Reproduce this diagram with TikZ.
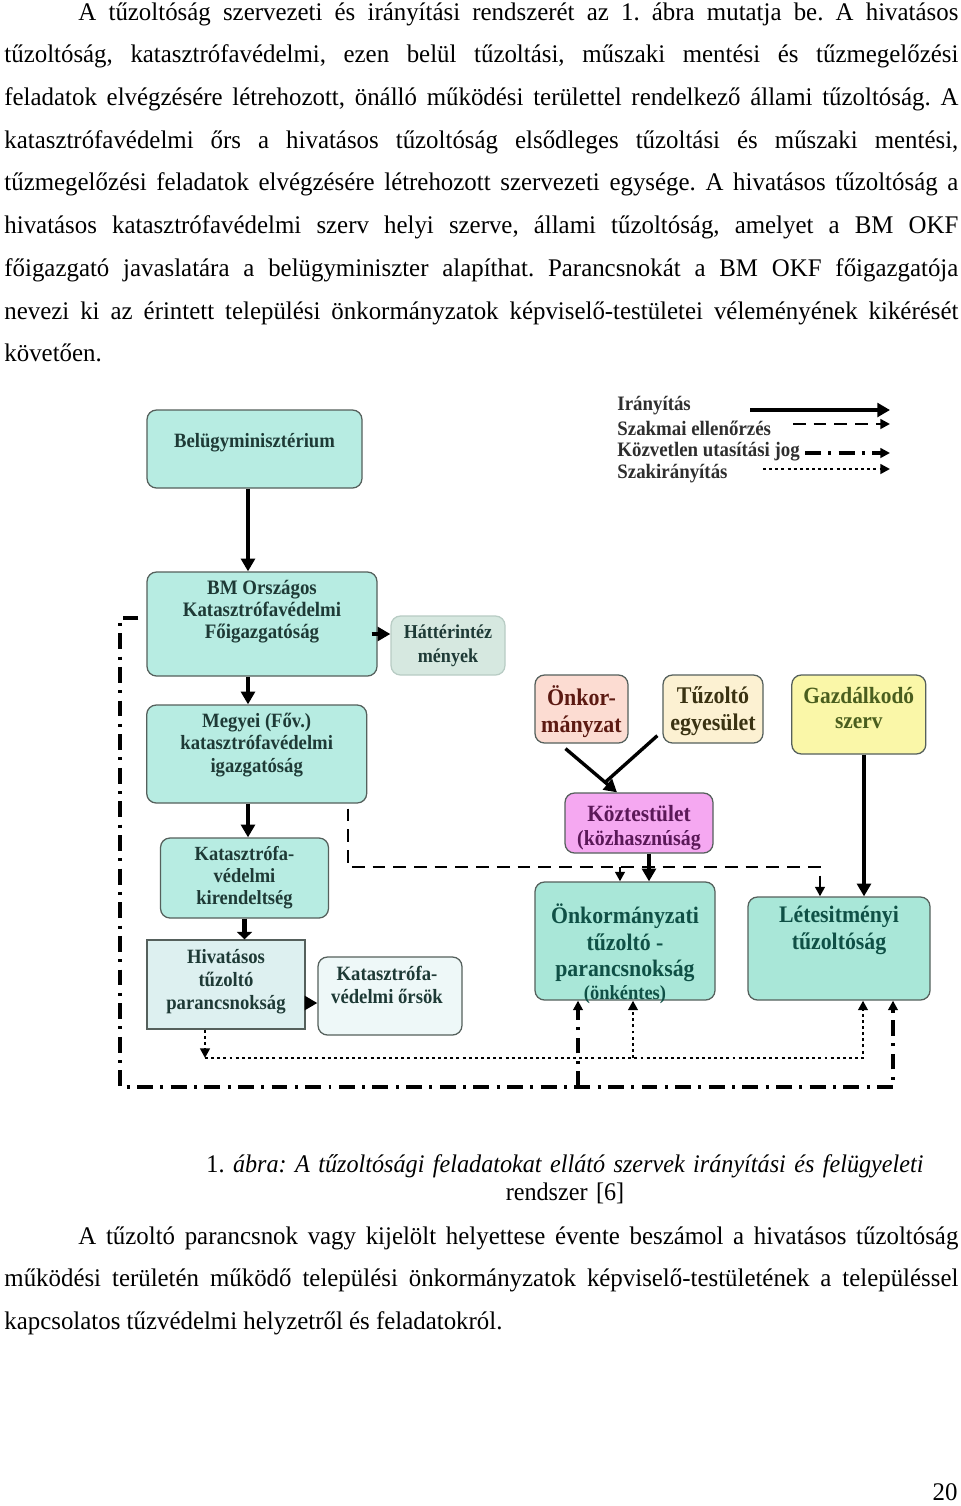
\documentclass[tikz,border=0pt]{standalone}
\usepackage{fontspec}
\setmainfont{Liberation Serif}[FakeStretch=0.98]
\newfontfamily\diafont{Liberation Serif}[FakeStretch=0.92]
\usetikzlibrary{arrows.meta,calc}
\newcommand{\px}{0.4728pt}
\newenvironment{sorkizart}{\begin{minipage}[t]{451pt}\hyphenpenalty=10000 \exhyphenpenalty=10000
  \noindent\hspace*{35pt}\ignorespaces}{\end{minipage}}
\definecolor{mint}{HTML}{B7ECE2}
\definecolor{mintdark}{HTML}{A9E7D8}
\definecolor{hatterfill}{HTML}{D6E8E0}
\definecolor{hatterline}{HTML}{B8CCC4}
\definecolor{hivfill}{HTML}{DDF0F0}
\definecolor{orsfill}{HTML}{EEF8F8}
\definecolor{onkorfill}{HTML}{FCDCD2}
\definecolor{tuzfill}{HTML}{FCF1D2}
\definecolor{gazdfill}{HTML}{FAF7A8}
\definecolor{kozfill}{HTML}{F5A8F1}
\definecolor{boxline}{HTML}{55605C}
\definecolor{tealtext}{HTML}{1E3A36}
\definecolor{greentext}{HTML}{0F5046}
\definecolor{onkortext}{HTML}{5C1A12}
\definecolor{tuztext}{HTML}{3A3212}
\definecolor{gazdtext}{HTML}{4A5E1E}
\definecolor{koztext}{HTML}{5A1858}
\definecolor{legtext}{HTML}{2E2E2E}
\tikzset{
  box/.style={draw=boxline,line width=0.6pt,rounded corners=4.5pt,inner sep=0pt},
  txt/.style={align=center,inner sep=0pt,text=tealtext,
    font=\diafont\bfseries\fontsize{9.6}{10.8}\selectfont},
  txtbig/.style={txt,font=\diafont\bfseries\fontsize{11.2}{12.5}\selectfont},
  legtxt/.style={inner sep=0pt,text=legtext,
    font=\diafont\bfseries\fontsize{9.7}{10.5}\selectfont},
  bodytext/.style={inner sep=0pt,font=\fontsize{12}{20.21}\selectfont\frenchspacing},
  iranyitas/.style={line width=1.6pt,-{Triangle[length=6pt,width=6.5pt]}},
  blokk/.style={line width=2.8pt,-{Triangle[length=3.5pt,width=7pt]}},
  szakmai/.style={line width=1.4pt,dash pattern=on 6pt off 3.8pt,-{Triangle[length=4.5pt,width=4.5pt]}},
  kozvetlen/.style={line width=1.5pt,dash pattern=on 7.5pt off 3.5pt on 1.4pt off 3.5pt,-{Triangle[length=4.5pt,width=4.5pt]}},
  szakir/.style={line width=1.4pt,dash pattern=on 1.4pt off 1.5pt,-{Triangle[length=4.5pt,width=4.5pt]}}
}
\begin{document}
\begin{tikzpicture}[x=\px,y=-\px]
  \fill[white] (0,0) rectangle (960,1506);
  \useasboundingbox (0,0) rectangle (960,1506);
  % text above the figure
  \node[bodytext,anchor=base west] (par1) at (4,20) {\begin{sorkizart}
    A tűzoltóság szervezeti és irányítási rendszerét az 1. ábra mutatja be. A hivatásos\linebreak
    tűzoltóság, katasztrófavédelmi, ezen belül tűzoltási, műszaki mentési és tűzmegelőzési\linebreak
    feladatok elvégzésére létrehozott, önálló működési területtel rendelkező állami tűzoltóság. A\linebreak
    katasztrófavédelmi őrs a hivatásos tűzoltóság elsődleges tűzoltási és műszaki mentési,\linebreak
    tűzmegelőzési feladatok elvégzésére létrehozott szervezeti egysége. A hivatásos tűzoltóság a\linebreak
    hivatásos katasztrófavédelmi szerv helyi szerve, állami tűzoltóság, amelyet a BM OKF\linebreak
    főigazgató javaslatára a belügyminiszter alapíthat. Parancsnokát a BM OKF főigazgatója\linebreak
    nevezi ki az érintett települési önkormányzatok képviselő-testületei véleményének kikérését\linebreak
    követően.\end{sorkizart}};
  % legend
  \foreach \st/\xa/\yl/\yt/\lab [count=\i] in {iranyitas/750/410/406/Irányítás,
      szakmai/793/424/428/Szakmai ellenőrzés,
      kozvetlen/805/453/452/Közvetlen utasítási jog,
      szakir/763/469/474/Szakirányítás}{
    \node[legtxt,anchor=west] (leg\i) at (617,\yt) {\lab};
    \coordinate (la\i) at (\xa,\yl);
    \coordinate (lb\i) at (890,\yl);
    \draw[\st] (la\i) -- (lb\i);
  }
  % boxes
  \node[box,fill=mint,minimum width=215*\px,minimum height=78*\px] (bm) at (254.5,449) {};
  \node[txt] (bm-t) at ($(bm)+(0,-6)$) {Belügyminisztérium};
  \node[box,fill=mint,minimum width=230*\px,minimum height=104*\px] (okf) at (262,624) {};
  \node[txt,font=\diafont\bfseries\fontsize{9.7}{10.4}\selectfont] (okf-t) at ($(okf)+(0,-12)$) {BM Országos\\Katasztrófavédelmi\\Főigazgatóság};
  \node[box,draw=hatterline,fill=hatterfill,minimum width=114*\px,minimum height=59*\px] (hatter) at (448,645.5) {};
  \node[txt,font=\diafont\bfseries\fontsize{9.3}{11.3}\selectfont] (hatter-t) at (hatter) {Háttérintéz\\mények};
  \node[box,fill=mint,minimum width=220*\px,minimum height=98*\px] (megyei) at (256.7,754) {};
  \node[txt] (megyei-t) at ($(megyei)+(0,-9)$) {Megyei (Főv.)\\katasztrófavédelmi\\igazgatóság};
  \node[box,fill=mint,minimum width=168*\px,minimum height=80*\px] (kir) at (244.5,878) {};
  \node[txt,font=\diafont\bfseries\fontsize{9.5}{10.4}\selectfont] (kir-t) at (kir) {Katasztrófa-\\védelmi\\kirendeltség};
  \node[box,rounded corners=0pt,fill=hivfill,minimum width=158*\px,minimum height=89*\px] (hiv) at (226,984.5) {};
  \node[txt] (hiv-t) at ($(hiv)+(0,-3)$) {Hivatásos\\tűzoltó\\parancsnokság};
  \node[box,fill=orsfill,minimum width=144*\px,minimum height=78*\px] (ors) at (390,996) {};
  \node[txt] (ors-t) at ($(ors)+(-3,-11)$) {Katasztrófa-\\védelmi őrsök};
  \node[box,fill=onkorfill,minimum width=93*\px,minimum height=68*\px] (onkor) at (581.5,709) {};
  \node[txt,text=onkortext,font=\diafont\bfseries\fontsize{11.3}{12.8}\selectfont] (onkor-t) at ($(onkor)+(0,2.5)$) {Önkor-\\mányzat};
  \node[box,fill=tuzfill,minimum width=100*\px,minimum height=68*\px] (tuz) at (713,709) {};
  \node[txt,text=tuztext,font=\diafont\bfseries\fontsize{11.3}{12.8}\selectfont] (tuz-t) at ($(tuz)+(0,2.5)$) {Tűzoltó\\egyesület};
  \node[box,fill=gazdfill,minimum width=134*\px,minimum height=79*\px] (gazd) at (858.8,714.5) {};
  \node[txt,text=gazdtext,font=\diafont\bfseries\fontsize{11}{11.4}\selectfont] (gazd-t) at ($(gazd)+(0,-6.5)$) {Gazdálkodó\\szerv};
  \node[box,fill=kozfill,minimum width=148*\px,minimum height=60*\px] (koz) at (639,823) {};
  \node[txt,text=koztext,font=\diafont\bfseries\fontsize{11}{11.4}\selectfont] (koz-t) at ($(koz)+(0,5)$) {Köztestület\\{\fontsize{10.2}{11}\selectfont(közhasznúság}};
  \node[box,fill=mintdark,minimum width=180*\px,minimum height=118*\px] (onkt) at (625,941) {};
  \node[txtbig,text=greentext] (onkt-t) at ($(onkt)+(0,13)$) {Önkormányzati\\tűzoltó -\\parancsnokság\\[-1.5pt]{\fontsize{9.5}{10}\selectfont(önkéntes)}};
  \node[box,fill=mintdark,minimum width=182*\px,minimum height=103*\px] (let) at (839,948.5) {};
  \node[txtbig,text=greentext] (let-t) at ($(let)+(0,-18)$) {Létesitményi\\tűzoltóság};
  % irányítás
  \coordinate (spine) at (248,0);
  \coordinate (okfy) at (0,634);
  \coordinate (orsy) at (0,1003);
  \coordinate (kozx) at (649,0);
  \coordinate (gazdx) at (864,0);
  \draw[iranyitas] (bm.south -| spine) -- (okf.north -| spine);
  \draw[iranyitas] (okf.south -| spine) -- (megyei.north -| spine);
  \draw[iranyitas] (megyei.south -| spine) -- (kir.north -| spine);
  \draw[blokk] (kir.south) -- (kir.south |- hiv.north);
  \draw[iranyitas] ([xshift=-6*\px]okf.east |- okfy) -- (hatter.west |- okfy);
  \draw[iranyitas] (hiv.east |- orsy) -- (ors.west |- orsy);
  \draw[iranyitas] ($(onkor.south)+(-16,5)$) -- ($(koz.north)+(-22,0)$) coordinate[pos=.77] (egyes);
  \draw[iranyitas,-] ($(tuz.south west)+(-5,-8)$) -- (egyes);
  \draw[iranyitas] (koz.south -| kozx) -- (onkt.north -| kozx);
  \draw[iranyitas] (gazd.south -| gazdx) -- (let.north -| gazdx);
  % szakmai ellenőrzés
  \coordinate (sz1) at (348,867);
  \coordinate (sz2) at (820,867);
  \coordinate (sz3) at (620,867);
  \draw[szakmai] ([yshift=-5*\px]megyei.south -| sz1) -- (sz1) -| (let.north -| sz2);
  \draw[szakmai] (sz3) -- (onkt.north -| sz3);
  % szakirányítás
  \coordinate (si1) at (205,1058);
  \coordinate (si2) at (863,1058);
  \coordinate (si3) at (633,1058);
  \draw[szakir] (hiv.south -| si1) -- (si1);
  \draw[szakir] (si1) -| (let.south -| si2);
  \draw[szakir] (si3) -- (onkt.south -| si3);
  % közvetlen utasítási jog
  \coordinate (ku0) at (120,618);
  \coordinate (ku1) at (120,1087);
  \coordinate (ku2) at (893,1087);
  \coordinate (ku3) at (578,1087);
  \draw[kozvetlen] ([xshift=-8*\px]okf.west |- ku0) -- (ku0) -- (ku1) -| (let.south -| ku2);
  \draw[kozvetlen] (ku3) -- (onkt.south -| ku3);
  % caption and text below
  \node[inner sep=0pt,text width=440pt,align=center,font=\fontsize{12}{13.7}\selectfont\addfontfeature{FakeStretch=0.952}\frenchspacing,anchor=base] (cap) at (565,1172)
    {1. \textit{ábra: A tűzoltósági feladatokat ellátó szervek irányítási és felügyeleti}\\rendszer [6]};
  \node[bodytext,anchor=base west] (par2) at (4,1244) {\begin{sorkizart}
    A tűzoltó parancsnok vagy kijelölt helyettese évente beszámol a hivatásos tűzoltóság\linebreak
    működési területén működő települési önkormányzatok képviselő-testületének a településsel\linebreak
    kapcsolatos tűzvédelmi helyzetről és feladatokról.\end{sorkizart}};
  \node[inner sep=0pt,font=\fontsize{12}{14}\selectfont,anchor=base east] (pnum) at (958,1500) {20};
\end{tikzpicture}
\end{document}
